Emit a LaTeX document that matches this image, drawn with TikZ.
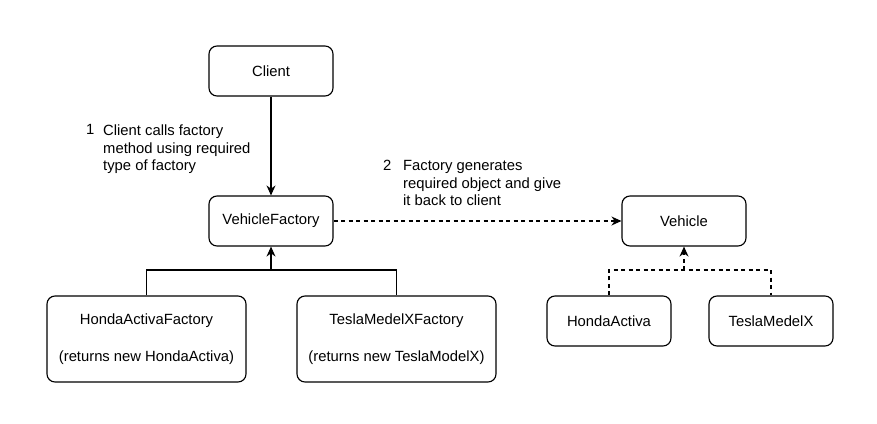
\documentclass[tikz,border=0pt]{standalone}
\usepackage{fontspec}
\setmainfont{Liberation Sans}
\usetikzlibrary{arrows.meta}
\begin{document}
\begin{tikzpicture}[x=1pt,y=-1pt,
  font=\fontsize{14.8}{17.5}\selectfont,
  box/.style={draw, line width=1.15pt, rounded corners=8pt, minimum width=124pt, minimum height=50pt, inner sep=0pt, align=center},
  bigbox/.style={box, minimum width=199pt, minimum height=86pt},
  conn/.style={line width=1.15pt, -{Stealth[length=10pt,width=9pt]}},
  dconn/.style={conn, dash pattern=on 4pt off 3.5pt},
  note/.style={align=left, anchor=north west, inner sep=0pt, font=\fontsize{14.8}{17.7}\selectfont}]
\useasboundingbox (0,0) rectangle (877,423);
\node[box] (client) at (271,71) {Client};
\node[box] (vf) at (271,221) {VehicleFactory};
\node[bigbox] (haf) at (146.5,339) {HondaActivaFactory\\[19pt](returns new HondaActiva)};
\node[bigbox] (tmf) at (396.5,339) {TeslaMedelXFactory\\[19pt](returns new TeslaModelX)};
\node[box] (veh) at (684,221) {Vehicle};
\node[box] (ha) at (609,321) {HondaActiva};
\node[box] (tm) at (771,321) {TeslaMedelX};
\coordinate (j1) at (271,270);
\coordinate (j2) at (684,270);
\draw[conn] (client) -- (vf);
\draw[line width=1.15pt] (haf.north) |- (j1) -| (tmf.north);
\draw[conn] (j1) -- (vf.south);
\draw[line width=1.15pt, dash pattern=on 4pt off 3.5pt] (ha.north) |- (j2) -| (tm.north);
\draw[dconn] (j2) -- (veh.south);
\draw[dconn] (vf.east) -- (veh.west);
\node[note] (n1) at (86,124.5) {1};
\node[note] (t1) at (103,124.5) {Client calls factory\\method using required\\type of factory};
\node[note] (n2) at (383,160) {2};
\node[note] (t2) at (403,160) {Factory generates\\required object and give\\it back to client};
\end{tikzpicture}
\end{document}
